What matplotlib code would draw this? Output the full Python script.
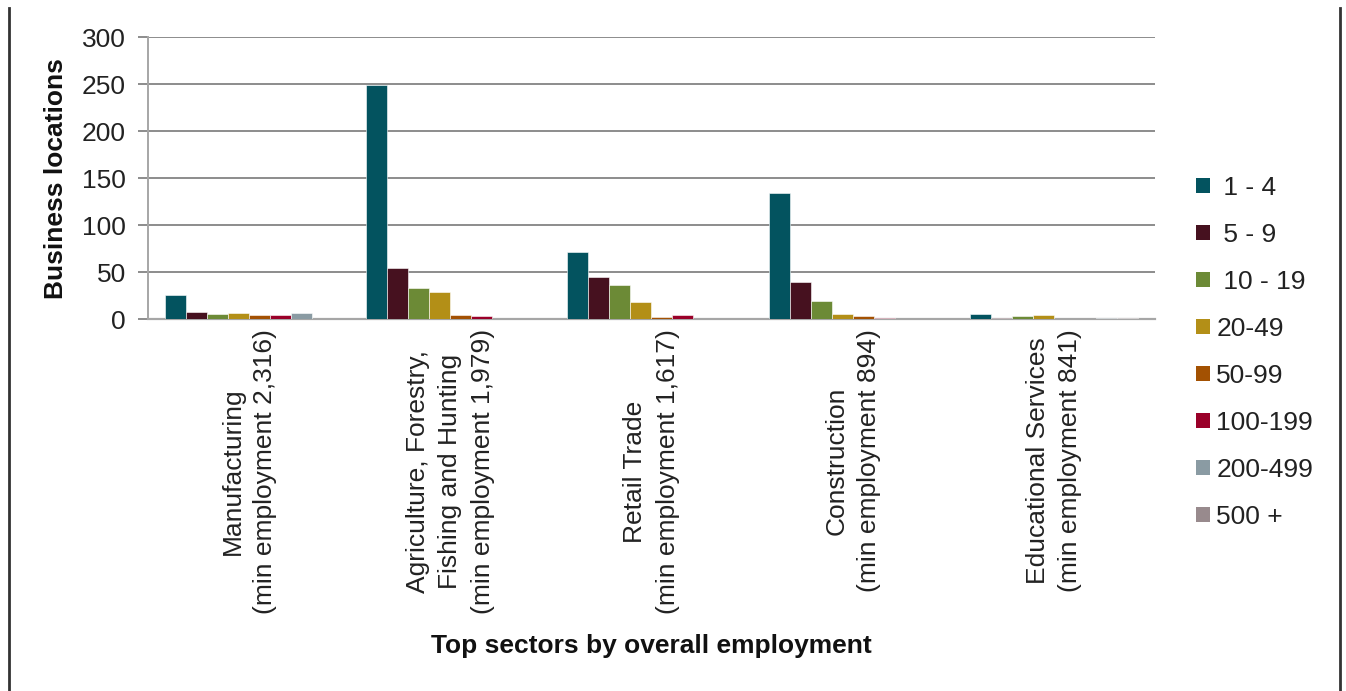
import numpy as np
import matplotlib
matplotlib.use("Agg")
import matplotlib.pyplot as plt
from matplotlib.patches import Patch
from matplotlib.lines import Line2D

plt.rcParams['font.family'] = ['Liberation Sans', 'DejaVu Sans']

sectors = [
    "Manufacturing\n(min employment 2,316)",
    "Agriculture, Forestry,\nFishing and Hunting\n(min employment 1,979)",
    "Retail Trade\n(min employment 1,617)",
    "Construction\n(min employment 894)",
    "Educational Services\n(min employment 841)",
]
size_classes = [" 1 - 4", " 5 - 9", " 10 - 19", "20-49", "50-99", "100-199", "200-499", "500 +"]
colors = ["#03535F", "#46111F", "#6C8A36", "#B38F17", "#A35102", "#9A0029", "#8A9BA3", "#988A8D"]

# business locations per size class, one list per sector
manufacturing = [26, 8, 6, 7, 5, 4, 7, 0]
agriculture = [249, 54, 33, 29, 5, 3, 0, 0]
retail = [72, 45, 36, 18, 2, 5, 0, 0]
construction = [134, 40, 19, 6, 3, 1, 0, 0]
education = [6, 1, 3, 5, 0, 0, 1, 1]

values = np.array([manufacturing, agriculture, retail, construction, education])
y_ticks = [0, 50, 100, 150, 200, 250, 300]

fs = 19

fig = plt.figure(figsize=(13.46, 6.91), dpi=100)
ax = fig.add_axes([0.110, 0.538, 0.748, 0.408])

x = np.arange(len(sectors))
w = 0.1043
for i, (lab, col) in enumerate(zip(size_classes, colors)):
    ax.bar(x + (i - 3.5) * w, values[:, i], width=w, color=col,
           edgecolor="white", linewidth=0.4, label=lab, zorder=3)

ax.set_xlim(-0.5, len(sectors) - 0.5)
ax.set_ylim(0, 300)
ax.set_yticks(y_ticks)
ax.yaxis.grid(True, color="#8C8C8C", linewidth=1.4, zorder=0)
for s in ["top", "right"]:
    ax.spines[s].set_visible(False)
ax.spines["left"].set_color("#A6A6A6")
ax.spines["bottom"].set_color("#A6A6A6")
ax.spines["left"].set_linewidth(1.4)
ax.spines["bottom"].set_linewidth(1.6)
ax.tick_params(axis="y", length=7, width=1.4, color="#8C8C8C",
               labelsize=fs, labelcolor="#222222", pad=9)
ax.tick_params(axis="x", length=0, pad=7)
ax.set_xticks(x)
ax.set_xticklabels(sectors, rotation=90, fontsize=fs, color="#222222",
                   ha="center", va="top", multialignment="center", linespacing=1.45)
ax.set_ylabel("Business locations", fontsize=fs, fontweight="bold",
              color="#111111", labelpad=10)

fig.text(0.484, 1 - 646 / 691, "Top sectors by overall employment", fontsize=fs,
         fontweight="bold", color="#111111", ha="center", va="center")

handles = [Patch(facecolor=c, edgecolor="none") for c in colors]
ax.legend(handles, size_classes, loc="center left", bbox_to_anchor=(1.0407, -0.118),
          frameon=False, fontsize=fs, handlelength=0.52, handleheight=0.52,
          handletextpad=0.25, labelspacing=0.87, borderpad=0, borderaxespad=0,
          labelcolor="#222222")

# page border lines left and right
fig.add_artist(Line2D([9 / 1346, 9 / 1346], [0, 1 - 8 / 691], transform=fig.transFigure,
                      color="#333333", linewidth=2))
fig.add_artist(Line2D([1340 / 1346, 1340 / 1346], [0, 1 - 8 / 691], transform=fig.transFigure,
                      color="#333333", linewidth=2))

fig.savefig("out.png", dpi=100)
